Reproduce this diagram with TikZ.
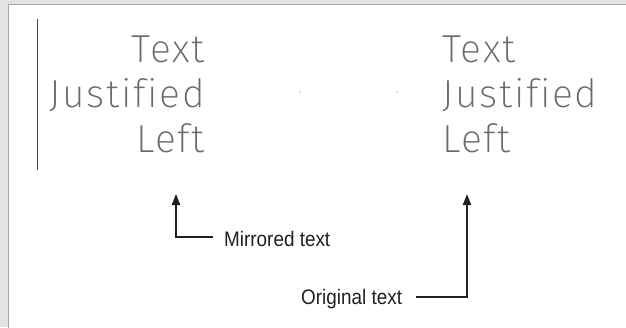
\documentclass[tikz,border=0pt]{standalone}
\usepackage{fontspec}
\setmainfont{Liberation Sans}
\newfontfamily\lblfont{Liberation Sans}[FakeStretch=0.9]
\newfontfamily\cadfont{Fira Sans ExtraLight}[LetterSpace=4.5,Ligatures=CommonOff]
\usetikzlibrary{arrows.meta}
\definecolor{frame}{HTML}{E4E4E4}
\definecolor{framedark}{HTML}{A8A8A8}
\definecolor{cadgray}{HTML}{6A6A6A}
\definecolor{ink}{HTML}{231F20}
\definecolor{lineink}{HTML}{444444}
\begin{document}
\begin{tikzpicture}[x=1pt,y=-1pt,
  cad/.style={font=\cadfont\fontsize{39}{39}\selectfont, text=cadgray, inner sep=0},
  lbl/.style={font=\lblfont\fontsize{21}{21}\selectfont, inner sep=0, text=ink},
  ptr/.style={draw=ink, line width=2pt, -{Triangle[length=11pt,width=8pt]}}]
\useasboundingbox (0,0) rectangle (626,327);
\fill[frame] (0,0) rectangle (626,327);
\draw[fill=white, draw=framedark, line width=1.2pt] (8.6,4.6) rectangle (632,333);
\draw[lineink, line width=1pt] (37,19) -- (37,170);
% mirrored
\node[cad, anchor=base east] (m1) at (205,62) {Text};
\node[cad, anchor=base east] (m2) at (205,107) {Justified};
\node[cad, anchor=base east] (m3) at (205,152) {Left};
% original
\node[cad, anchor=base west] (o1) at (442,62) {Text};
\node[cad, anchor=base west] (o2) at (442,107) {Justified};
\node[cad, anchor=base west] (o3) at (442,152) {Left};
% tiny dots
\fill[cadgray] (300,92) circle (0.6);
\fill[cadgray] (397,92) circle (0.6);
% labels
\node[lbl, anchor=west] (ml) at (224,239) {Mirrored text};
\node[lbl, anchor=west] (ol) at (301,299) {Original text};
\coordinate (mt) at (176,194);
\coordinate (ot) at (467,194);
\draw[ptr] ([shift={(-11,-2)}]ml.west) -| (mt);
\draw[ptr] ([shift={(14,-2)}]ol.east) -| (ot);
\end{tikzpicture}
\end{document}
